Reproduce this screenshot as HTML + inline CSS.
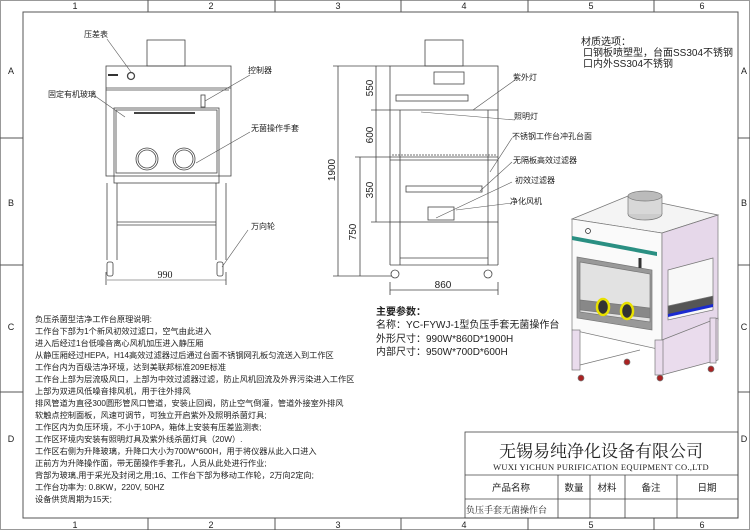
<!DOCTYPE html>
<html><head><meta charset="utf-8"><style>
body{margin:0;background:#fff}
svg{display:block}
text{font-family:"Liberation Sans","Noto Sans CJK SC",sans-serif;fill:#222}
.s{font-family:"Liberation Serif","Noto Serif CJK SC",serif}
</style></head><body>
<svg width="750" height="530" viewBox="0 0 750 530" xmlns="http://www.w3.org/2000/svg">
<rect width="750" height="530" fill="#fff"/>
<!-- frame -->
<g stroke="#555" fill="none" stroke-width="1">
<rect x="0.5" y="0.5" width="749" height="529" stroke="#999"/>
<rect x="23" y="12" width="715" height="506"/>
<line x1="0" y1="138" x2="23" y2="138"/><line x1="0" y1="265" x2="23" y2="265"/><line x1="0" y1="392" x2="23" y2="392"/>
<line x1="738" y1="138" x2="750" y2="138"/><line x1="738" y1="265" x2="750" y2="265"/><line x1="738" y1="392" x2="750" y2="392"/>
<line x1="148" y1="0" x2="148" y2="12"/><line x1="275" y1="0" x2="275" y2="12"/><line x1="401" y1="0" x2="401" y2="12"/><line x1="528" y1="0" x2="528" y2="12"/><line x1="654" y1="0" x2="654" y2="12"/>
<line x1="148" y1="518" x2="148" y2="530"/><line x1="275" y1="518" x2="275" y2="530"/><line x1="401" y1="518" x2="401" y2="530"/><line x1="528" y1="518" x2="528" y2="530"/><line x1="654" y1="518" x2="654" y2="530"/>
</g>
<g font-size="9" class="s" text-anchor="middle">
<text x="75" y="9">1</text><text x="211" y="9">2</text><text x="338" y="9">3</text><text x="464" y="9">4</text><text x="591" y="9">5</text><text x="702" y="9">6</text>
<text x="75" y="528">1</text><text x="211" y="528">2</text><text x="338" y="528">3</text><text x="464" y="528">4</text><text x="591" y="528">5</text><text x="702" y="528">6</text>
<text x="11" y="74">A</text><text x="11" y="206">B</text><text x="11" y="330">C</text><text x="11" y="442">D</text>
<text x="744" y="74">A</text><text x="744" y="206">B</text><text x="744" y="330">C</text><text x="744" y="442">D</text>
</g>

<!-- front view -->
<g stroke="#444" fill="none" stroke-width="0.8">
<rect x="147" y="40" width="38" height="26"/>
<rect x="106" y="66" width="125" height="110"/>
<line x1="106" y1="88" x2="231" y2="88"/><line x1="106" y1="90" x2="229" y2="90"/>
<rect x="114" y="108" width="105" height="75"/>
<rect x="116" y="110" width="101" height="63"/>
<line x1="134" y1="113" x2="195" y2="113" stroke-width="2"/>
<circle cx="147" cy="159" r="11"/><circle cx="147" cy="159" r="9"/>
<circle cx="184" cy="159" r="11"/><circle cx="184" cy="159" r="9"/>
<circle cx="131" cy="76" r="3.5" stroke-width="1.3"/>
<rect x="201" y="95" width="4" height="12"/>
<line x1="107" y1="183" x2="107" y2="260"/><line x1="117" y1="183" x2="117" y2="260"/>
<line x1="216" y1="183" x2="216" y2="260"/><line x1="226" y1="183" x2="226" y2="260"/>
<line x1="117" y1="222" x2="216" y2="222"/><line x1="117" y1="225" x2="216" y2="225"/>
<rect x="107" y="262" width="6" height="14" rx="2"/><rect x="217" y="262" width="6" height="14" rx="2"/>
<line x1="107" y1="280" x2="226" y2="280" stroke-width="0.6"/>
<line x1="106" y1="272" x2="106" y2="285"/><line x1="226" y1="272" x2="226" y2="285"/>
</g>
<g stroke="#555" fill="none" stroke-width="0.6">
<line x1="107" y1="39" x2="131" y2="72"/>
<line x1="95" y1="96" x2="125" y2="117"/>
<line x1="250" y1="75" x2="205" y2="101"/>
<line x1="250" y1="132" x2="196" y2="163"/>
<line x1="248" y1="230" x2="222" y2="267"/>
</g>
<rect x="108" y="74" width="10" height="2" fill="#333"/>
<g font-size="8">
<text x="84" y="37">压差表</text>
<text x="48" y="97">固定有机玻璃</text>
<text x="248" y="73">控制器</text>
<text x="251" y="131">无菌操作手套</text>
<text x="251" y="229">万向轮</text>
</g>
<text x="165" y="278" font-size="10" class="s" text-anchor="middle">990</text>

<!-- side view -->
<g stroke="#444" fill="none" stroke-width="0.8">
<rect x="425" y="40" width="38" height="26"/>
<rect x="390" y="66" width="108" height="156"/>
<line x1="390" y1="110" x2="498" y2="110"/>
<line x1="390" y1="157" x2="498" y2="157"/>
<line x1="400" y1="110" x2="400" y2="265"/><line x1="488" y1="110" x2="488" y2="265"/>
<line x1="390" y1="222" x2="390" y2="265"/><line x1="498" y1="222" x2="498" y2="265"/>
<line x1="400" y1="258" x2="488" y2="258"/>
<line x1="390" y1="265" x2="498" y2="265"/>
<rect x="434" y="72" width="30" height="12"/>
<rect x="396" y="95" width="72" height="6"/>
<rect x="406" y="186" width="76" height="6"/>
<rect x="428" y="207" width="26" height="13"/>
<line x1="392" y1="155" x2="497" y2="155" stroke-dasharray="2 1"/>
<line x1="390" y1="160" x2="498" y2="160"/>
<circle cx="395" cy="274" r="4"/><circle cx="488" cy="274" r="4"/>
<line x1="376" y1="66" x2="376" y2="222"/>
<line x1="360" y1="157" x2="360" y2="276"/>
<line x1="338" y1="66" x2="338" y2="276"/>
<line x1="333" y1="66" x2="390" y2="66"/><line x1="355" y1="157" x2="390" y2="157"/>
<line x1="371" y1="110" x2="390" y2="110"/><line x1="371" y1="222" x2="390" y2="222"/>
<line x1="333" y1="276" x2="392" y2="276"/>
<line x1="390" y1="290" x2="498" y2="290"/>
<line x1="390" y1="282" x2="390" y2="295"/><line x1="498" y1="282" x2="498" y2="295"/>
</g>
<g stroke="#555" stroke-width="0.6" fill="none">
<line x1="515" y1="80" x2="473" y2="110"/>
<line x1="515" y1="120" x2="421" y2="112"/>
<line x1="512" y1="138" x2="490" y2="172"/>
<line x1="512" y1="162" x2="480" y2="191"/>
<line x1="512" y1="182" x2="436" y2="218"/>
<line x1="512" y1="203" x2="456" y2="210"/>
</g>
<g font-size="8">
<text x="513" y="80">紫外灯</text>
<text x="514" y="119">照明灯</text>
<text x="512" y="139">不锈钢工作台冲孔台面</text>
<text x="513" y="163">无隔板高效过滤器</text>
<text x="515" y="183">初效过滤器</text>
<text x="510" y="204">净化风机</text>
</g>
<g font-size="10" class="s" text-anchor="middle">
<text transform="translate(373,88) rotate(-90)">550</text>
<text transform="translate(373,135) rotate(-90)">600</text>
<text transform="translate(373,190) rotate(-90)">350</text>
<text transform="translate(356,232) rotate(-90)">750</text>
<text transform="translate(335,170) rotate(-90)">1900</text>
<text x="443" y="288">860</text>
</g>

<!-- materials -->
<g font-size="10">
<text x="581" y="45">材质选项：</text>
<text x="583" y="56">口钢板喷塑型，台面SS304不锈钢</text>
<text x="583" y="67">口内外SS304不锈钢</text>
</g>

<!-- 3D render -->
<g stroke="#777" stroke-width="0.7">
<polygon points="572,219 628,196 718,215 662,233" fill="#f4f4f4"/>
<ellipse cx="645" cy="214" rx="17" ry="6" fill="#ccc"/>
<rect x="628" y="196" width="34" height="18" fill="#d8d8d8" stroke="none"/>
<line x1="628" y1="196" x2="628" y2="214"/><line x1="662" y1="196" x2="662" y2="214"/>
<ellipse cx="645" cy="196" rx="17" ry="5" fill="#bbb"/>
<polygon points="572,219 662,233 662,350 572,330" fill="#fafafa"/>
<polygon points="662,233 718,215 718,320 662,345" fill="#e6d8ea"/>
<polygon points="668,270 713,258 713,310 668,320" fill="#f8f8f8"/>
<polygon points="668,306 713,296 713,305 668,315" fill="#555"/>
<polygon points="668,314 713,304 713,307 668,317" fill="#1a2ad0" stroke="none"/>
<polygon points="577,257 652,270 652,330 577,318" fill="#999"/>
<polygon points="580,262 650,274 650,322 580,312" fill="#e2e2e2"/>
<polygon points="580,300 650,308 650,318 580,310" fill="#888"/>
<polygon points="572,236 657,252 657,256 572,240" fill="#2a8f82" stroke="none"/>
<line x1="640" y1="258" x2="640" y2="268" stroke="#333" stroke-width="3"/>
<ellipse cx="603" cy="307" rx="6" ry="8" fill="#333" stroke="#e8e000" stroke-width="2.5"/>
<ellipse cx="627" cy="311" rx="6" ry="8" fill="#333" stroke="#e8e000" stroke-width="2.5"/>
<circle cx="588" cy="231" r="2.5" fill="none" stroke="#222"/>
<polygon points="662,340 718,318 718,360 662,375" fill="#eadced"/>
<rect x="572" y="330" width="8" height="40" fill="#eadced"/>
<rect x="655" y="340" width="8" height="35" fill="#eadced"/>
<rect x="710" y="318" width="6" height="45" fill="#eadced"/>
<line x1="580" y1="365" x2="640" y2="350"/>
<circle cx="581" cy="378" r="3" fill="#a22"/><circle cx="627" cy="362" r="3" fill="#a22"/>
<circle cx="660" cy="378" r="3" fill="#a22"/><circle cx="711" cy="369" r="3" fill="#a22"/>
</g>

<!-- params -->
<g font-size="10">
<text x="376" y="315" font-weight="bold">主要参数：</text>
<text x="376" y="328">名称：YC-FYWJ-1型负压手套无菌操作台</text>
<text x="376" y="342">外形尺寸：990W*860D*1900H</text>
<text x="376" y="355">内部尺寸：950W*700D*600H</text>
</g>

<!-- description -->
<g font-size="8.2">
<text x="35" y="322">负压杀菌型洁净工作台原理说明:</text>
<text x="35" y="334">工作台下部为1个新风初效过滤口，空气由此进入</text>
<text x="35" y="346">进入后经过1台低噪音离心风机加压进入静压厢</text>
<text x="35" y="358">从静压厢经过HEPA，H14高效过滤器过后通过台面不锈钢网孔板匀流送入到工作区</text>
<text x="35" y="370">工作台内为百级洁净环境，达到美联邦标准209E标准</text>
<text x="35" y="382">工作台上部为层流吸风口，上部为中效过滤器过滤，防止风机回流及外界污染进入工作区</text>
<text x="35" y="394">上部为双进风低噪音排风机，用于往外排风</text>
<text x="35" y="406">排风管道为直径300圆形管风口管道，安装止回阀，防止空气倒灌，管道外接室外排风</text>
<text x="35" y="418">软触点控制面板，风速可调节，可独立开启紫外及照明杀菌灯具;</text>
<text x="35" y="430">工作区内为负压环境，不小于10PA，箱体上安装有压差监测表;</text>
<text x="35" y="442">工作区环境内安装有照明灯具及紫外线杀菌灯具（20W）.</text>
<text x="35" y="454">工作区右侧为升降玻璃，升降口大小为700W*600H，用于将仪器从此入口进入</text>
<text x="35" y="466">正前方为升降操作面，带无菌操作手套孔，人员从此处进行作业;</text>
<text x="35" y="478">背部为玻璃,用于采光及封闭之用;16、工作台下部为移动工作轮，2万向2定向;</text>
<text x="35" y="490">工作台功率为: 0.8KW，220V, 50HZ</text>
<text x="35" y="502">设备供货周期为15天;</text>
</g>

<!-- title block -->
<g stroke="#444" fill="none" stroke-width="0.8">
<rect x="465" y="432" width="273" height="86"/>
<line x1="465" y1="475" x2="738" y2="475"/>
<line x1="465" y1="499" x2="738" y2="499"/>
<line x1="558" y1="475" x2="558" y2="518"/><line x1="590" y1="475" x2="590" y2="518"/>
<line x1="625" y1="475" x2="625" y2="518"/><line x1="677" y1="475" x2="677" y2="518"/>
</g>
<text x="601" y="457" font-size="17" text-anchor="middle" class="s">无锡易纯净化设备有限公司</text>
<text x="601" y="470" font-size="8.5" text-anchor="middle" class="s" letter-spacing="0.3">WUXI YICHUN PURIFICATION EQUIPMENT CO.,LTD</text>
<g font-size="9.5" text-anchor="middle" class="s">
<text x="511" y="491">产品名称</text><text x="574" y="491">数量</text><text x="607" y="491">材料</text><text x="651" y="491">备注</text><text x="707" y="491">日期</text>
</g>
<text x="466" y="513" font-size="9" class="s">负压手套无菌操作台</text>
</svg>
</body></html>
